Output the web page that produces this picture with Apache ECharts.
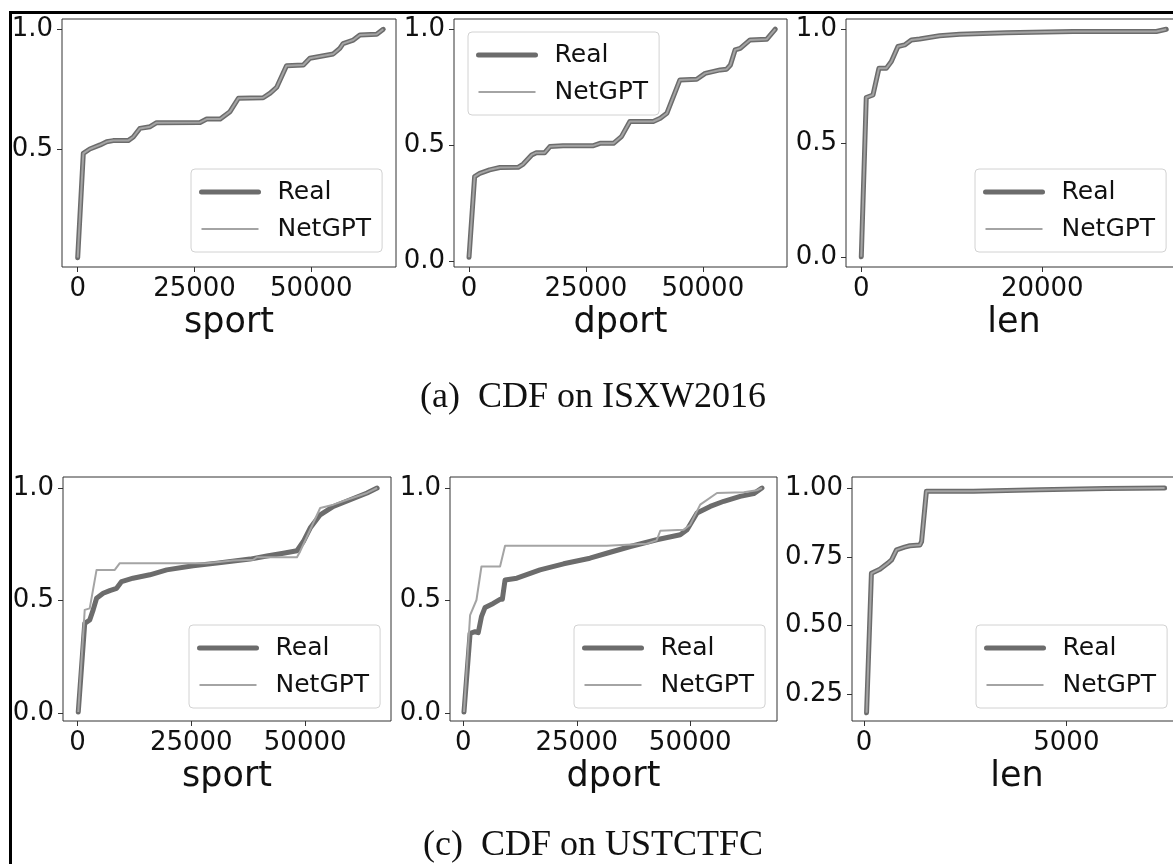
<!DOCTYPE html>
<html>
<head>
<meta charset="utf-8">
<script src="https://cdn.jsdelivr.net/npm/echarts@6/dist/echarts.min.js"></script>
<style>
  html, body { margin: 0; padding: 0; background: #fff; }
  #chart { width: 1173px; height: 864px; }
</style>
</head>
<body>
<div id="chart"></div>
<script>
// ---------- ISXW2016 ----------
const isxSportX      = [0, 1200, 2600, 4800, 6200, 7600, 10800, 11900, 13300, 15500, 16900, 26200, 27600, 30500, 32600, 34400, 39700, 41200, 42600, 44700, 48300, 49700, 54700, 56100, 56800, 59000, 60400, 64000, 65400];
const isxSportReal   = [0.046, 0.482, 0.50, 0.517, 0.53, 0.535, 0.535, 0.55, 0.586, 0.593, 0.61, 0.611, 0.625, 0.625, 0.656, 0.712, 0.714, 0.733, 0.758, 0.848, 0.851, 0.879, 0.897, 0.92, 0.94, 0.955, 0.976, 0.979, 1.0];
const isxSportNetGPT = [0.046, 0.482, 0.50, 0.517, 0.53, 0.535, 0.535, 0.55, 0.586, 0.593, 0.61, 0.611, 0.625, 0.625, 0.656, 0.712, 0.714, 0.733, 0.758, 0.848, 0.851, 0.879, 0.897, 0.92, 0.94, 0.955, 0.976, 0.979, 1.0];

const isxDportX      = [0, 1200, 2300, 4400, 6600, 10500, 11600, 13400, 14400, 16200, 17300, 20100, 26600, 28000, 30900, 32600, 34400, 39400, 40900, 42300, 45100, 48700, 50500, 53700, 55100, 55900, 56900, 58000, 60100, 63700, 65500];
const isxDportReal   = [0.019, 0.366, 0.38, 0.395, 0.405, 0.406, 0.42, 0.459, 0.469, 0.469, 0.495, 0.499, 0.499, 0.509, 0.509, 0.538, 0.603, 0.603, 0.617, 0.638, 0.782, 0.785, 0.81, 0.825, 0.828, 0.846, 0.911, 0.918, 0.954, 0.957, 1.0];
const isxDportNetGPT = [0.019, 0.366, 0.38, 0.395, 0.405, 0.406, 0.42, 0.459, 0.469, 0.469, 0.495, 0.499, 0.499, 0.509, 0.509, 0.538, 0.603, 0.603, 0.617, 0.638, 0.782, 0.785, 0.81, 0.825, 0.828, 0.846, 0.911, 0.918, 0.954, 0.957, 1.0];

const isxLenX        = [0, 550, 1290, 1950, 2760, 3320, 4050, 4790, 5530, 6450, 8660, 10870, 16000, 23400, 32600, 33700];
const isxLenReal     = [0.0, 0.70, 0.711, 0.828, 0.828, 0.858, 0.924, 0.931, 0.953, 0.957, 0.971, 0.978, 0.985, 0.99, 0.99, 1.0];
const isxLenNetGPT   = [0.0, 0.70, 0.711, 0.828, 0.828, 0.858, 0.924, 0.931, 0.953, 0.957, 0.971, 0.978, 0.985, 0.99, 0.99, 1.0];

// ---------- USTCTFC ----------
const ustcSportRealX  = [180, 1600, 2700, 3450, 4200, 5650, 7100, 8600, 9700, 12200, 15900, 19600, 25400, 30600, 37900, 41600, 45200, 48200, 49600, 51100, 53300, 56200, 59900, 63600, 65800];
const ustcSportReal   = [0.004, 0.398, 0.413, 0.458, 0.51, 0.532, 0.544, 0.554, 0.584, 0.599, 0.614, 0.636, 0.654, 0.666, 0.684, 0.698, 0.71, 0.721, 0.762, 0.822, 0.881, 0.918, 0.948, 0.978, 1.0];
const ustcSportNetX   = [180, 1600, 2700, 4200, 8200, 9300, 19600, 28400, 34200, 38600, 39400, 48200, 48900, 53300, 56200, 59200, 63600, 65800];
const ustcSportNetGPT = [0.004, 0.458, 0.465, 0.636, 0.636, 0.666, 0.666, 0.666, 0.678, 0.681, 0.692, 0.692, 0.718, 0.911, 0.926, 0.948, 0.978, 1.0];

const ustcDportRealX  = [150, 1500, 2600, 3300, 4000, 4800, 6600, 8100, 8600, 9200, 11800, 16900, 22100, 27900, 31600, 36800, 42600, 47800, 49300, 51500, 54400, 57400, 61000, 64000, 65800];
const ustcDportReal   = [0.004, 0.354, 0.361, 0.357, 0.428, 0.469, 0.487, 0.505, 0.505, 0.591, 0.599, 0.636, 0.663, 0.688, 0.71, 0.74, 0.77, 0.792, 0.814, 0.889, 0.918, 0.941, 0.963, 0.975, 1.0];
const ustcDportNetX   = [150, 1500, 2900, 4000, 8100, 9200, 31600, 40400, 42600, 43400, 48500, 50000, 52200, 55900, 61800, 64700, 65800];
const ustcDportNetGPT = [0.004, 0.435, 0.502, 0.651, 0.651, 0.743, 0.743, 0.752, 0.767, 0.81, 0.814, 0.837, 0.926, 0.978, 0.981, 0.99, 1.0];

const ustcLenX        = [60, 180, 390, 590, 680, 800, 1000, 1130, 1380, 1420, 1540, 2700, 4340, 5990, 7430];
const ustcLenReal     = [0.183, 0.69, 0.705, 0.727, 0.739, 0.775, 0.785, 0.79, 0.793, 0.805, 0.988, 0.988, 0.994, 0.998, 1.0];
const ustcLenNetGPT   = [0.183, 0.69, 0.705, 0.727, 0.739, 0.775, 0.785, 0.79, 0.793, 0.805, 0.988, 0.988, 0.994, 0.998, 1.0];

// ---------- ticks and text ----------
const seriesNames   = ['Real', 'NetGPT'];
const xTicksPort    = [0, 25000, 50000];
const xTicksIsxLen  = [0, 20000];
const xTicksUstcLen = [0, 5000];
const yTicksHalf    = [0, 0.5, 1.0];
const yTicksUpper   = [0.5, 1.0];
const yTicksQuarter = [0.25, 0.5, 0.75, 1.0];
const captions = ['(a)\u2002CDF on ISXW2016', '(c)\u2002CDF on USTCTFC'];

// ---------- panel layout ----------
const panels = [
  { grid: { left: 62, top: 19, width: 334, height: 248 }, x: [-3360, 68130], y: [0.007, 1.043],
    xTicks: xTicksPort, yTicks: yTicksUpper, yDigits: 1, name: 'sport',
    realX: isxSportX, real: isxSportReal, netX: isxSportX, net: isxSportNetGPT, legend: { left: 191, top: 169 } },
  { grid: { left: 454, top: 19, width: 333, height: 248 }, x: [-3210, 68000], y: [-0.023, 1.044],
    xTicks: xTicksPort, yTicks: yTicksHalf, yDigits: 1, name: 'dport',
    realX: isxDportX, real: isxDportReal, netX: isxDportX, net: isxDportNetGPT, legend: { left: 468, top: 32 } },
  { grid: { left: 846, top: 19, width: 336, height: 248 }, x: [-1690, 35440], y: [-0.045, 1.045],
    xTicks: xTicksIsxLen, yTicks: yTicksHalf, yDigits: 1, name: 'len',
    realX: isxLenX, real: isxLenReal, netX: isxLenX, net: isxLenNetGPT, legend: { left: 975, top: 169 } },
  { grid: { left: 63, top: 477, width: 328, height: 244 }, x: [-3170, 68850], y: [-0.036, 1.049],
    xTicks: xTicksPort, yTicks: yTicksHalf, yDigits: 1, name: 'sport',
    realX: ustcSportRealX, real: ustcSportReal, netX: ustcSportNetX, net: ustcSportNetGPT, legend: { left: 189, top: 625 } },
  { grid: { left: 450, top: 477, width: 327, height: 244 }, x: [-2930, 69120], y: [-0.036, 1.049],
    xTicks: xTicksPort, yTicks: yTicksHalf, yDigits: 1, name: 'dport',
    realX: ustcDportRealX, real: ustcDportReal, netX: ustcDportNetX, net: ustcDportNetGPT, legend: { left: 574, top: 625 } },
  { grid: { left: 852, top: 477, width: 330, height: 244 }, x: [-300, 7860], y: [0.153, 1.040],
    xTicks: xTicksUstcLen, yTicks: yTicksQuarter, yDigits: 2, name: 'len',
    realX: ustcLenX, real: ustcLenReal, netX: ustcLenX, net: ustcLenNetGPT, legend: { left: 976, top: 625 } }
];

const FONT = 'DejaVu Sans';
const INK = '#111';
const FRAME = '#333';
const REAL_COLOR = '#6c6c6c';
const NET_COLOR = '#a4a4a4';
const REAL_WIDTH = 5;
const NET_WIDTH = 2;

function zip(xs, ys) { return xs.map((x, i) => [x, ys[i]]); }

const grids = [], xAxes = [], yAxes = [], series = [], legends = [];

panels.forEach((p, i) => {
  grids.push(Object.assign({
    show: true, borderColor: FRAME, borderWidth: 1, backgroundColor: '#fff',
    containLabel: false, outerBoundsMode: 'none'
  }, p.grid));

  xAxes.push({
    type: 'value', gridIndex: i, min: p.x[0], max: p.x[1], position: 'bottom',
    axisLine: { show: false, onZero: false },
    axisTick: { show: true, length: 5, customValues: p.xTicks, lineStyle: { color: FRAME, width: 1 } },
    axisLabel: { customValues: p.xTicks, formatter: v => String(Math.round(v)),
      fontFamily: FONT, fontSize: 26, color: INK, margin: 9 },
    splitLine: { show: false },
    name: p.name, nameLocation: 'middle', nameGap: 38, nameMoveOverlap: false,
    nameTextStyle: { fontFamily: FONT, fontSize: 35, color: INK }
  });

  yAxes.push({
    type: 'value', gridIndex: i, min: p.y[0], max: p.y[1], position: 'left',
    axisLine: { show: false, onZero: false },
    axisTick: { show: true, length: 5, customValues: p.yTicks, lineStyle: { color: FRAME, width: 1 } },
    axisLabel: { customValues: p.yTicks, formatter: v => Number(v).toFixed(p.yDigits),
      fontFamily: FONT, fontSize: 26, color: INK, margin: 9 },
    splitLine: { show: false }
  });

  series.push({
    type: 'line', name: seriesNames[0], xAxisIndex: i, yAxisIndex: i,
    data: zip(p.realX, p.real), symbol: 'none', z: 2,
    lineStyle: { color: REAL_COLOR, width: REAL_WIDTH, join: 'round', cap: 'round' },
    itemStyle: { color: REAL_COLOR }
  });
  series.push({
    type: 'line', name: seriesNames[1], xAxisIndex: i, yAxisIndex: i,
    data: zip(p.netX, p.net), symbol: 'none', z: 3,
    lineStyle: { color: NET_COLOR, width: NET_WIDTH, join: 'round' },
    itemStyle: { color: NET_COLOR }
  });

  legends.push({
    orient: 'vertical', left: p.legend.left, top: p.legend.top,
    data: [
      { name: seriesNames[0], lineStyle: { color: REAL_COLOR, width: REAL_WIDTH } },
      { name: seriesNames[1], lineStyle: { color: NET_COLOR, width: NET_WIDTH } }
    ],
    selectedMode: false,
    itemWidth: 57, itemHeight: 20, itemGap: 7,
    padding: [8, 11, 8, 8],
    backgroundColor: 'rgba(255,255,255,0.85)',
    borderColor: '#d2d2d2', borderWidth: 1, borderRadius: 4,
    itemStyle: { opacity: 0 },
    textStyle: { fontFamily: FONT, fontSize: 25, color: INK, lineHeight: 30, padding: [0, 0, 0, 14] }
  });
});

const chart = echarts.init(document.getElementById('chart'), null, { renderer: 'canvas' });
chart.setOption({
  animation: false,
  backgroundColor: '#fff',
  grid: grids,
  xAxis: xAxes,
  yAxis: yAxes,
  legend: legends,
  series: series,
  graphic: [
    { type: 'line', z: 100, shape: { x1: 9, y1: 12.5, x2: 1173, y2: 12.5 }, style: { stroke: '#000', lineWidth: 3 } },
    { type: 'line', z: 100, shape: { x1: 10.5, y1: 11, x2: 10.5, y2: 864 }, style: { stroke: '#000', lineWidth: 3 } },
    { type: 'text', x: 593, y: 398, style: { text: captions[0], font: '36px "Liberation Serif"', fill: INK,
      align: 'center', verticalAlign: 'middle', textAlign: 'center', textVerticalAlign: 'middle' } },
    { type: 'text', x: 593, y: 846, style: { text: captions[1], font: '36px "Liberation Serif"', fill: INK,
      align: 'center', verticalAlign: 'middle', textAlign: 'center', textVerticalAlign: 'middle' } }
  ]
});
</script>
</body>
</html>
